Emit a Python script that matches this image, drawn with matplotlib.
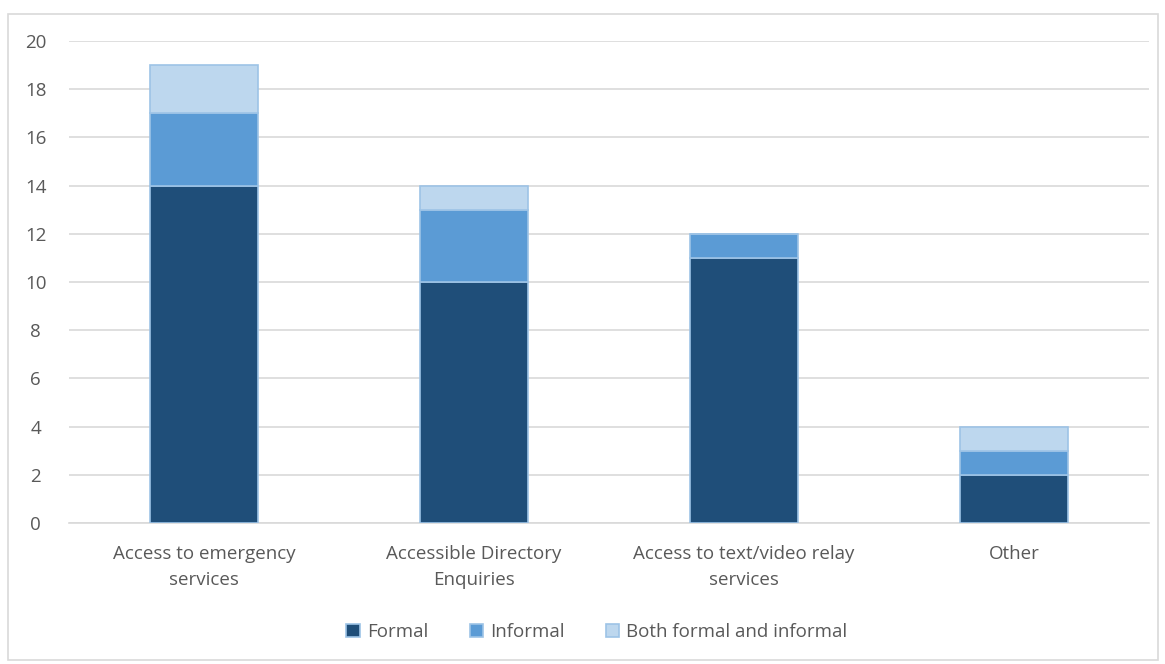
import matplotlib.pyplot as plt
from matplotlib.patches import Rectangle

categories = ["Access to emergency\nservices", "Accessible Directory\nEnquiries",
              "Access to text/video relay\nservices", "Other"]
formal = [14, 10, 11, 2]
informal = [3, 3, 1, 1]
both = [2, 1, 0, 1]
series_names = ["Formal", "Informal", "Both formal and informal"]
colors = ["#1F4E79", "#5B9BD5", "#BDD7EE"]
edge = "#9DC3E6"

plt.rcParams['font.family'] = ['Open Sans', 'DejaVu Sans']
FS = 13.5

fig = plt.figure(figsize=(11.65, 6.64), dpi=100)
ax = fig.add_axes([69 / 1165, 1 - 523 / 664, 1080 / 1165, 482 / 664])

# outer frame of the chart area
fig.add_artist(Rectangle((8 / 1165, 4 / 664), 1150 / 1165, 646 / 664,
                         transform=fig.transFigure, fill=False,
                         edgecolor="#D9D9D9", linewidth=1.2))

x = range(len(categories))
bottom = [0] * len(categories)
for vals, name, col in zip([formal, informal, both], series_names, colors):
    ax.bar(x, vals, width=0.4, bottom=bottom, color=col, edgecolor=edge,
           linewidth=1.2, label=name, zorder=3)
    bottom = [b + v for b, v in zip(bottom, vals)]

ax.set_xlim(-0.5, len(categories) - 0.5)
ax.set_ylim(0, 20)
ax.set_yticks(range(0, 21, 2))
ax.grid(axis="y", color="#D9D9D9", linewidth=1.2, zorder=0)
for s in ["top", "right", "left"]:
    ax.spines[s].set_visible(False)
ax.spines["bottom"].set_color("#D9D9D9")
ax.spines["bottom"].set_linewidth(1.2)
ax.tick_params(axis="both", length=0, colors="#595959", labelsize=FS)
ax.tick_params(axis="y", pad=24)
ax.tick_params(axis="x", pad=16)
ax.set_xticks(list(x))
ax.set_xticklabels(categories, linespacing=1.55)
for lbl in ax.get_yticklabels():
    lbl.set_horizontalalignment("center")

leg = fig.legend(loc="center", bbox_to_anchor=(597 / 1165, 1 - 632 / 664),
                 ncol=3, frameon=False, fontsize=FS, handlelength=0.7,
                 handleheight=0.7, handletextpad=0.4, columnspacing=2.2)
for t in leg.get_texts():
    t.set_color("#595959")

fig.savefig("out.png", dpi=100)
